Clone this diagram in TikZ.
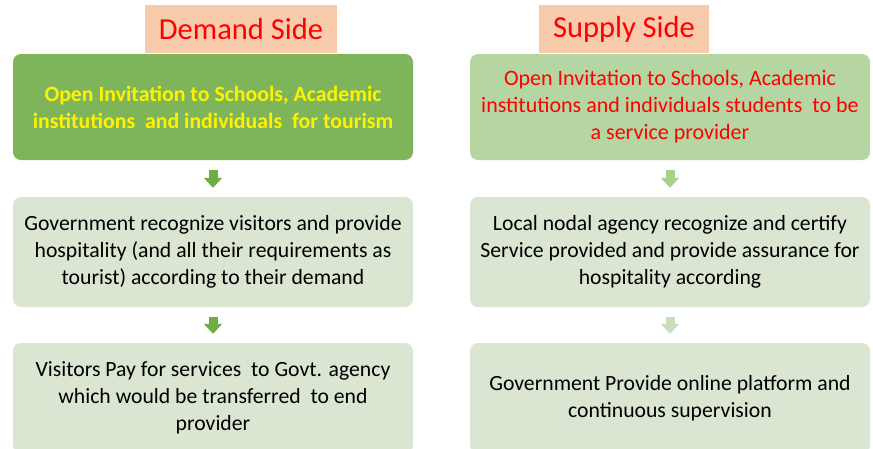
\documentclass[tikz,border=0pt]{standalone}
\usepackage{fontspec}
\setmainfont{Carlito}
\usetikzlibrary{arrows.meta}
\definecolor{headfill}{HTML}{F8CBAD}
\definecolor{topleft}{HTML}{7EB55B}
\definecolor{topright}{HTML}{B5D6A2}
\definecolor{lowfill}{HTML}{DAE5D2}
\definecolor{arrowdark}{HTML}{70AD47}
\definecolor{arrowmid}{HTML}{A9D18E}
\definecolor{arrowlight}{HTML}{C9DFBB}

\begin{document}
\begin{tikzpicture}[x=1pt,y=-1pt,
    stepbox/.style={rounded corners=8pt,minimum width=400pt,minimum height=110pt,inner sep=0pt,align=center,font=\fontsize{21.7}{27}\selectfont},
    headbox/.style={fill=headfill,text=red,inner sep=0pt,minimum height=48pt,font=\fontsize{30.5}{36}\selectfont},
    blockarrow/.style={line width=9pt,-{Triangle[length=10pt,width=18pt]},shorten <=10pt,shorten >=9pt}]
    \clip (0,0) rectangle (873,448); % page size
    \node[headbox,minimum width=192pt] (dhead) at (241,29) {Demand Side\hspace{12pt}}; % demand header
    \node[headbox,minimum width=170pt] (shead) at (624,29) {Supply Side}; % supply header
    \node[stepbox,fill=topleft,text=yellow,minimum height=106pt,font=\fontsize{21.8}{27}\selectfont\bfseries] (d1) at (213,107)
        {Open Invitation to Schools, Academic\\institutions\ \ and individuals\ \ for tourism}; % demand step 1
    \node[stepbox,fill=lowfill] (d2) at (213,252)
        {Government recognize visitors and provide\\hospitality (and all their requirements as\\tourist) according to their demand}; % demand step 2
    \node[stepbox,fill=lowfill] (d3) at (213,398)
        {Visitors Pay for services\ \ to Govt. agency\\which would be transferred\ \ to end\\provider}; % demand step 3
    \node[stepbox,fill=topright,text=red,minimum height=106pt,font=\fontsize{22}{27}\selectfont] (s1) at (670,107)
        {Open Invitation to Schools, Academic\\institutions and individuals students\ \ to be\\a service provider}; % supply step 1
    \node[stepbox,fill=lowfill] (s2) at (670,252)
        {Local nodal agency recognize and certify\\Service provided and provide assurance for\\hospitality according}; % supply step 2
    \node[stepbox,fill=lowfill] (s3) at (670,398)
        {Government Provide online platform and\\continuous supervision}; % supply step 3
    \draw[blockarrow,arrowdark] (d1.south) -- (d2.north); % arrows
    \draw[blockarrow,arrowdark] (d2.south) -- (d3.north);
    \draw[blockarrow,arrowmid] (s1.south) -- (s2.north);
    \draw[blockarrow,arrowlight] (s2.south) -- (s3.north);
\end{tikzpicture}
\end{document}
